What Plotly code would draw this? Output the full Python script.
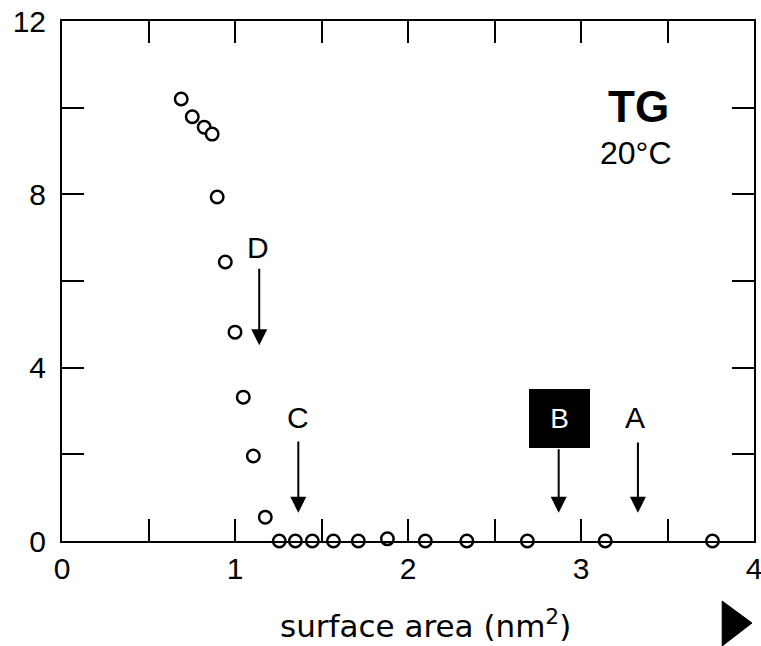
import plotly.graph_objects as go

# Surface pressure isotherm of TG at 20 °C
area = [0.689, 0.753, 0.822, 0.868, 0.897, 0.944, 1.00, 1.048, 1.106, 1.175,
        1.256, 1.349, 1.447, 1.569, 1.713, 1.881, 2.10, 2.34, 2.69, 3.14, 3.76]
pressure = [10.2, 9.79, 9.55, 9.39, 7.94, 6.44, 4.82, 3.32, 1.96, 0.55,
            0.0, 0.0, 0.0, 0.0, 0.0, 0.05, 0.0, 0.0, 0.0, 0.0, 0.0]

# Marked states: label, arrow x, arrow tail y, arrow tip y, label x, label y
marks = ["D", "C", "B", "A"]
mark_x = [1.14, 1.366, 2.871, 3.329]
mark_tail = [6.32, 2.33, 2.15, 2.31]
mark_tip = [4.52, 0.65, 0.65, 0.65]
label_x = [1.135, 1.366, 2.874, 3.31]
label_y = [6.78, 2.84, 2.83, 2.86]

x_ticks = [0, 0.5, 1, 1.5, 2, 2.5, 3, 3.5, 4]
x_text = ["0", "", "1", "", "2", "", "3", "", "4"]
y_ticks = [0, 2, 4, 6, 8, 10, 12]
y_text = ["0", "", "4", "", "8", "", "12"]

FONT = "Liberation Sans, Arial, sans-serif"

fig = go.Figure()
fig.add_trace(go.Scatter(
    x=area, y=pressure, mode="markers",
    marker=dict(symbol="circle", size=12.5, color="white",
                line=dict(color="black", width=2.5)),
    cliponaxis=False, showlegend=False,
))

annotations = []
for lab, mx, tail, tip, lx, ly in zip(marks, mark_x, mark_tail, mark_tip, label_x, label_y):
    annotations.append(dict(
        x=mx, y=tip, ax=mx, ay=tail, xref="x", yref="y", axref="x", ayref="y",
        text="", showarrow=True, arrowhead=2, arrowsize=1.6, arrowwidth=2,
        arrowcolor="black",
    ))
    if lab == "B":
        annotations.append(dict(
            x=lx, y=ly, xref="x", yref="y", text=lab, showarrow=False,
            font=dict(family=FONT, size=28, color="white"),
            bgcolor="black", width=61, height=59, borderpad=0, borderwidth=0,
        ))
    else:
        annotations.append(dict(
            x=lx, y=ly, xref="x", yref="y", text=lab, showarrow=False,
            font=dict(family=FONT, size=30, color="black"),
        ))

annotations.append(dict(x=3.33, y=10.02, xref="x", yref="y", text="<b>TG</b>",
                        showarrow=False, font=dict(family=FONT, size=44, color="black")))
annotations.append(dict(x=3.32, y=8.95, xref="x", yref="y", text="20°C",
                        showarrow=False, font=dict(family=FONT, size=32, color="black")))
annotations.append(dict(x=0.525, y=-0.202, xref="paper", yref="paper",
                        text="surface area (nm<sup>2</sup>)", showarrow=False,
                        font=dict(family="DejaVu Sans, sans-serif", size=31, color="black")))

fig.update_layout(
    width=761, height=646,
    margin=dict(l=62, r=7, t=21, b=105, autoexpand=False),
    paper_bgcolor="white", plot_bgcolor="white",
    annotations=annotations,
    shapes=[dict(type="path", xref="paper", yref="paper",
                 path="M 0.954 -0.1154 L 0.997 -0.1577 L 0.954 -0.2019 Z",
                 fillcolor="black", line=dict(color="black", width=1))],
    font=dict(family=FONT, color="black"),
)
fig.update_xaxes(
    range=[0, 4], tickvals=x_ticks, ticktext=x_text, ticks="inside", ticklen=22,
    tickwidth=2, tickcolor="black", showline=True, linewidth=2, linecolor="black",
    mirror="ticks", showgrid=False, zeroline=False, automargin=False,
    ticklabeloverflow="allow",
    tickfont=dict(family=FONT, size=30, color="black"),
)
fig.update_yaxes(
    range=[0, 12], tickvals=y_ticks, ticktext=y_text, ticks="inside", ticklen=22,
    tickwidth=2, tickcolor="black", showline=True, linewidth=2, linecolor="black",
    mirror="ticks", showgrid=False, zeroline=False, ticklabelstandoff=8, automargin=False,
    ticklabeloverflow="allow",
    tickfont=dict(family=FONT, size=30, color="black"),
)

fig.write_html("out.html")
